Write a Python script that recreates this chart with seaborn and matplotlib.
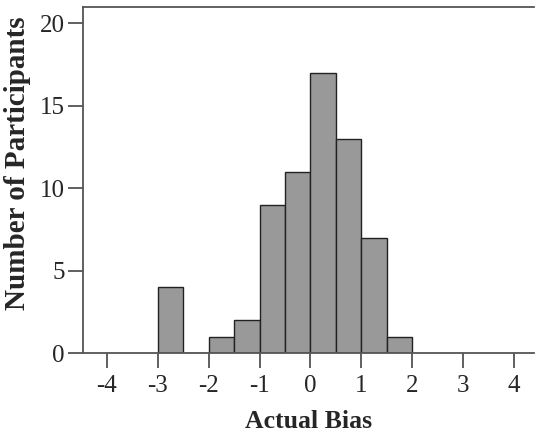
import numpy as np
import seaborn as sns
import matplotlib
matplotlib.use("Agg")
from matplotlib import pyplot as plt

# histogram bins (width 0.5) and participant counts
bin_edges = [-3.0, -2.5, -2.0, -1.5, -1.0, -0.5, 0.0, 0.5, 1.0, 1.5, 2.0]
counts = [4, 0, 1, 2, 9, 11, 17, 13, 7, 1]
x_ticks = [-4, -3, -2, -1, 0, 1, 2, 3, 4]
y_ticks = [0, 5, 10, 15, 20]

sns.set_style("white")
plt.rcParams["font.family"] = ["Liberation Serif", "DejaVu Serif"]

centers = [(a + b) / 2 for a, b in zip(bin_edges[:-1], bin_edges[1:])]

fig = plt.figure(figsize=(5.35, 4.36), dpi=100)
ax = fig.add_axes([0.155, 0.19, 0.843, 0.794])

sns.histplot(x=centers, weights=counts, bins=bin_edges, color="#999999",
             edgecolor="#222222", linewidth=1.0, alpha=1.0, ax=ax)

ax.set_xlim(-4.47, 4.39)
ax.set_ylim(0, 21)
ax.set_xticks(x_ticks)
ax.set_xticklabels([str(t) for t in x_ticks])
ax.set_yticks(y_ticks)
ax.tick_params(axis="both", direction="out", length=11, width=1.2,
               color="#444444", labelsize=18, pad=2, left=True, bottom=True)
ax.tick_params(axis="x", pad=5)
ax.spines["right"].set_visible(False)
for s in ["left", "bottom", "top"]:
    ax.spines[s].set_color("#555555")
    ax.spines[s].set_linewidth(1.3)

ax.set_xlabel("Actual Bias", fontsize=18.5, fontweight="bold", labelpad=9)
ax.set_ylabel("Number of Participants", fontsize=21, fontweight="bold")
ax.yaxis.set_label_coords(-0.115, 0.55)

plt.savefig("out.png", dpi=100)
